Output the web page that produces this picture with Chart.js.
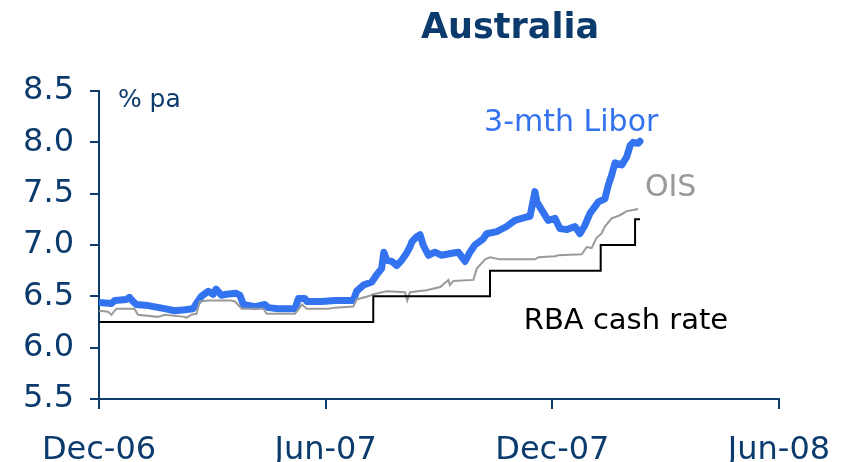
<!DOCTYPE html>
<html>
<head>
<meta charset="utf-8">
<title>Australia</title>
<script src="https://cdn.jsdelivr.net/npm/chart.js@4.4.1/dist/chart.umd.min.js"></script>
<style>
    html, body { margin: 0; padding: 0; background: #ffffff; }
    #wrap { width: 845px; height: 462px; }
</style>
</head>
<body>
<div id="wrap"><canvas id="chart" width="845" height="462"></canvas></div>
<script>
// x values are months since 1 Dec 2006
const tickLabels = ["Dec-06", "Jun-07", "Dec-07", "Jun-08"];

const liborMonths = [0.00, 0.33, 0.42, 0.72, 0.81, 0.90, 0.99, 1.30, 1.74, 2.00, 2.27, 2.49, 2.58, 2.71, 2.89, 3.02, 3.10, 3.24, 3.37, 3.63, 3.73, 3.82, 4.13, 4.39, 4.48, 4.75, 5.19, 5.28, 5.45, 5.50, 5.89, 6.25, 6.73, 6.82, 7.00, 7.22, 7.35, 7.48, 7.54, 7.62, 7.75, 7.88, 8.01, 8.14, 8.23, 8.28, 8.41, 8.50, 8.58, 8.72, 8.89, 9.07, 9.34, 9.51, 9.69, 9.82, 9.95, 10.17, 10.26, 10.53, 10.79, 11.01, 11.28, 11.41, 11.54, 11.59, 11.72, 11.89, 12.07, 12.20, 12.38, 12.60, 12.73, 12.86, 13.00, 13.22, 13.39, 13.48, 13.57, 13.66, 13.84, 13.97, 14.06, 14.14, 14.27, 14.32];
const liborValues = [6.44, 6.43, 6.46, 6.47, 6.49, 6.45, 6.42, 6.41, 6.38, 6.36, 6.37, 6.38, 6.43, 6.50, 6.55, 6.52, 6.57, 6.51, 6.52, 6.53, 6.51, 6.42, 6.40, 6.42, 6.39, 6.38, 6.38, 6.48, 6.48, 6.45, 6.45, 6.46, 6.46, 6.55, 6.61, 6.64, 6.71, 6.77, 6.93, 6.85, 6.84, 6.80, 6.85, 6.92, 6.98, 7.03, 7.08, 7.10, 7.00, 6.90, 6.93, 6.90, 6.92, 6.93, 6.84, 6.93, 7.00, 7.06, 7.11, 7.13, 7.18, 7.24, 7.27, 7.28, 7.52, 7.42, 7.34, 7.24, 7.26, 7.16, 7.15, 7.18, 7.11, 7.19, 7.31, 7.42, 7.45, 7.58, 7.68, 7.80, 7.78, 7.86, 7.97, 8.00, 7.99, 8.01];

const oisMonths = [0.00, 0.24, 0.33, 0.46, 0.94, 1.03, 1.56, 1.74, 2.27, 2.31, 2.44, 2.58, 2.67, 2.89, 3.50, 3.60, 3.78, 4.35, 4.44, 5.19, 5.37, 5.50, 6.07, 6.25, 6.73, 6.82, 7.13, 7.26, 7.62, 8.10, 8.16, 8.23, 8.67, 9.03, 9.25, 9.29, 9.38, 9.91, 10.00, 10.22, 10.35, 10.61, 11.54, 11.63, 12.07, 12.16, 12.78, 12.91, 13.04, 13.17, 13.30, 13.39, 13.57, 13.79, 13.97, 14.14, 14.27];
const oisValues = [6.36, 6.35, 6.32, 6.38, 6.38, 6.32, 6.30, 6.32, 6.30, 6.29, 6.32, 6.33, 6.45, 6.46, 6.46, 6.45, 6.38, 6.38, 6.33, 6.33, 6.42, 6.38, 6.38, 6.39, 6.40, 6.47, 6.50, 6.52, 6.55, 6.54, 6.46, 6.54, 6.56, 6.59, 6.66, 6.61, 6.65, 6.66, 6.77, 6.86, 6.88, 6.86, 6.86, 6.88, 6.89, 6.90, 6.91, 6.98, 6.97, 7.07, 7.11, 7.18, 7.26, 7.29, 7.33, 7.34, 7.35];

const cashMonths = [0.00, 7.26, 10.35, 13.28, 14.19, 14.32];
const cashValues = [6.25, 6.50, 6.75, 7.00, 7.25, 7.25];

const navy = "#0b3b6d";
const font = "'DejaVu Sans', Verdana, sans-serif";

function toPoints(xs, ys) {
    return xs.map((x, i) => ({ x: x, y: ys[i] }));
}

// labels placed in data coordinates
const annotations = [
    { text: "% pa", x: 0.5, y: 8.41, color: navy, size: 25, align: "left" },
    { text: "3-mth Libor", x: 12.5, y: 8.19, color: "#3373f0", size: 30, align: "center" },
    { text: "OIS", x: 14.45, y: 7.55, color: "#999999", size: 30, align: "left" },
    { text: "RBA cash rate", x: 13.95, y: 6.26, color: "#000000", size: 29, align: "center" }
];

const labelPlugin = {
    id: "labels",
    afterDraw(chart) {
        const ctx = chart.ctx;
        const xs = chart.scales.x;
        const ys = chart.scales.y;
        ctx.save();
        ctx.textBaseline = "middle";
        annotations.forEach(a => {
            ctx.font = a.size + "px " + font;
            ctx.fillStyle = a.color;
            ctx.textAlign = a.align;
            ctx.fillText(a.text, xs.getPixelForValue(a.x), ys.getPixelForValue(a.y));
        });
        // title
        ctx.font = "bold 35px " + font;
        ctx.fillStyle = navy;
        ctx.textAlign = "center";
        ctx.fillText("Australia", 510, 29);
        ctx.restore();
    }
};

new Chart(document.getElementById("chart"), {
    type: "line",
    data: {
        datasets: [
            {
                label: "RBA cash rate",
                data: toPoints(cashMonths, cashValues),
                borderColor: "#000000",
                borderWidth: 2,
                stepped: true,
                pointRadius: 0
            },
            {
                label: "OIS",
                data: toPoints(oisMonths, oisValues),
                borderColor: "#9a9a9a",
                borderWidth: 2,
                pointRadius: 0,
                tension: 0
            },
            {
                label: "3-mth Libor",
                data: toPoints(liborMonths, liborValues),
                borderColor: "#3373f0",
                borderWidth: 7,
                borderJoinStyle: "round",
                borderCapStyle: "round",
                pointRadius: 0,
                tension: 0
            }
        ]
    },
    options: {
        responsive: false,
        animation: false,
        layout: { padding: { left: 0, right: 66, top: 91, bottom: 0 } },
        plugins: {
            legend: { display: false },
            title: { display: false },
            tooltip: { enabled: false }
        },
        scales: {
            x: {
                type: "linear",
                min: 0,
                max: 18,
                border: { display: true, color: navy, width: 2 },
                grid: { display: true, drawOnChartArea: false, drawTicks: true, tickLength: 10, color: navy, lineWidth: 2 },
                ticks: {
                    stepSize: 6,
                    color: navy,
                    padding: 22,
                    maxRotation: 0,
                    font: { family: font, size: 32 },
                    callback: v => tickLabels[v / 6]
                },
                afterFit: scale => {
                    scale.height = 63;
                    scale.paddingLeft = 0;
                    scale.paddingRight = 0;
                }
            },
            y: {
                min: 5.5,
                max: 8.5,
                border: { display: true, color: navy, width: 2 },
                grid: { display: true, drawOnChartArea: false, drawTicks: true, tickLength: 9, color: navy, lineWidth: 2 },
                ticks: {
                    stepSize: 0.5,
                    color: navy,
                    padding: 16,
                    font: { family: font, size: 32 },
                    callback: v => v.toFixed(1)
                },
                afterFit: scale => { scale.width = 99; }
            }
        }
    },
    plugins: [labelPlugin]
});
</script>
</body>
</html>
